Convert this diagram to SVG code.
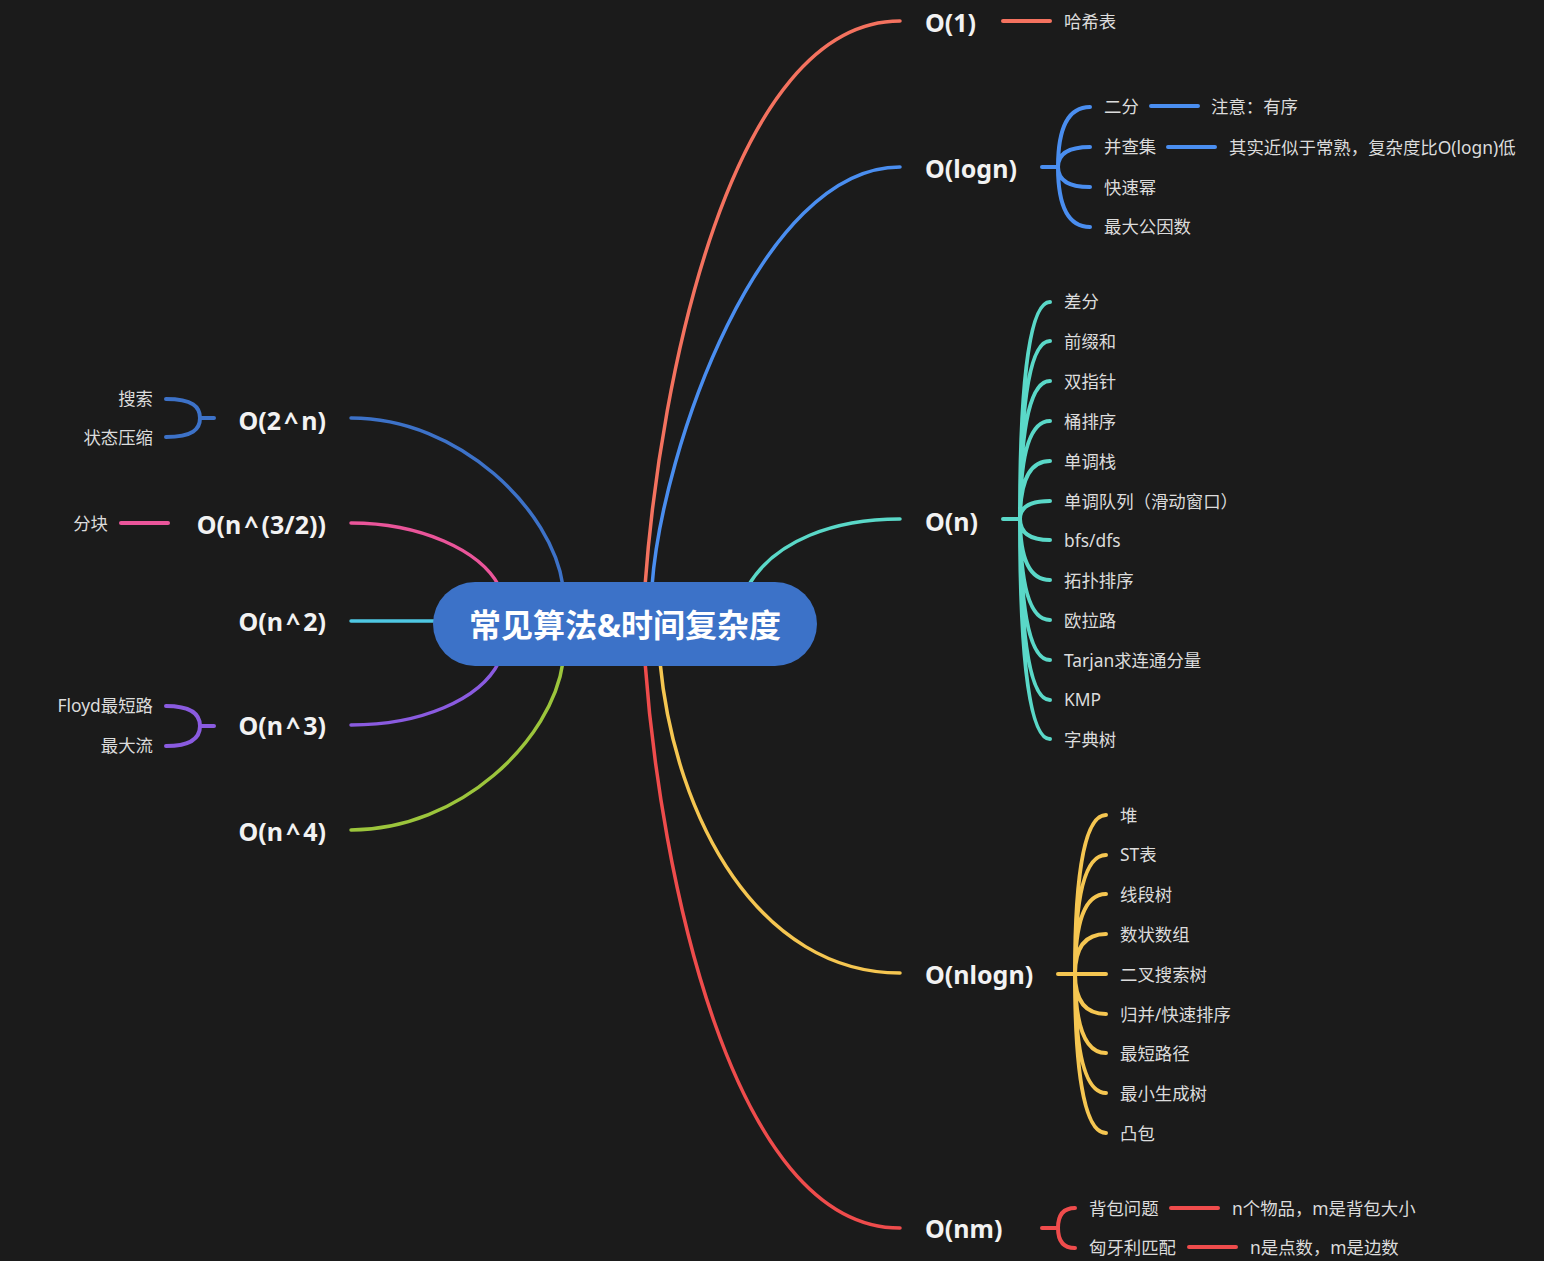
<svg xmlns="http://www.w3.org/2000/svg" width="1544" height="1261" viewBox="0 0 1544 1261">
<style>
.bg{fill:#1b1b1b}
.c{fill:none;stroke-linecap:round;stroke-width:3.5}
.s{fill:none;stroke-linecap:round;stroke-width:4}
.lbl{font-family:'Noto Sans','Open Sans','Noto Sans CJK SC',sans-serif;font-weight:700;font-size:25px;fill:#f2f2f2}
.t{font-family:'Noto Sans','Noto Sans CJK SC',sans-serif;font-size:17.4px;fill:#dcdcdc}
.end{text-anchor:end}
.r1{stroke:#f4725f}.bl{stroke:#4a8ef0}.tl{stroke:#5ad8c8}.yl{stroke:#f5c651}.rd{stroke:#ef4c4c}
.db{stroke:#3d72c8}.pk{stroke:#ea559a}.cy{stroke:#4fc8e3}.pu{stroke:#8a5be0}.gr{stroke:#9cc53c}
</style>
<rect class="bg" x="0" y="0" width="1544" height="1261"/>
<g id="connectors">
<path class="c r1" d="M645 586 C660 380 730 21 900 21"/>
<path class="c bl" d="M652 586 C662 450 760 167 900 167"/>
<path class="c tl" d="M748 586 C775 540 835 519 900 519"/>
<path class="c yl" d="M660 662 C675 820 760 973 900 973"/>
<path class="c rd" d="M645 662 C660 868 730 1228 900 1228"/>
<path class="c db" d="M563 586 C552 510 460 418 351 418"/>
<path class="c pk" d="M499 586 C480 550 420 523 351 523"/>
<path class="c cy" d="M351 621 L440 621"/>
<path class="c pu" d="M499 662 C480 700 420 725 351 725"/>
<path class="c gr" d="M563 662 C552 740 460 830 351 830"/>
<path class="s r1" d="M1003 21 H1050"/>
<path class="s bl" d="M1042 167 H1058 M1058 167 C1058 134 1065 107 1090 107 M1058 167 C1058 156 1065 147 1090 147 M1058 167 C1058 178 1065 187 1090 187 M1058 167 C1058 200 1065 227 1090 227"/>
<path class="s bl" d="M1151 106 H1198 M1168 147 H1215"/>
<path class="s tl" d="M1003 519 H1020 M1020 519 C1020 400 1027 302 1050 302 M1020 519 C1020 421 1027 341 1050 341 M1020 519 C1020 443 1027 381 1050 381 M1020 519 C1020 465 1027 421 1050 421 M1020 519 C1020 487 1027 461 1050 461 M1020 519 C1020 509 1027 501 1050 501 M1020 519 C1020 531 1027 540 1050 540 M1020 519 C1020 553 1027 580 1050 580 M1020 519 C1020 575 1027 620 1050 620 M1020 519 C1020 597 1027 660 1050 660 M1020 519 C1020 619 1027 700 1050 700 M1020 519 C1020 640 1027 739 1050 739"/>
<path class="s yl" d="M1058 974 H1106 M1075 974 C1075 887 1082 815 1106 815 M1075 974 C1075 909 1082 855 1106 855 M1075 974 C1075 930 1082 894 1106 894 M1075 974 C1075 952 1082 934 1106 934 M1075 974 C1075 996 1082 1014 1106 1014 M1075 974 C1075 1017 1082 1053 1106 1053 M1075 974 C1075 1039 1082 1093 1106 1093 M1075 974 C1075 1061 1082 1133 1106 1133"/>
<path class="s rd" d="M1042 1228 H1058 M1058 1228 C1058 1217 1062 1208 1075 1208 M1058 1228 C1058 1239 1062 1248 1075 1248"/>
<path class="s rd" d="M1171 1208 H1218 M1189 1247 H1236"/>
<path class="s db" d="M214 418 H200 M200 418 C200 407 193 399 166 399 M200 418 C200 429 193 437 166 437"/>
<path class="s pk" d="M121 523 H168"/>
<path class="s pu" d="M214 726 H200 M200 726 C200 715 193 706 166 706 M200 726 C200 737 193 746 166 746"/>
</g>
<g id="center">
<rect x="433" y="582" width="384" height="84" rx="42" fill="#3c72c8"/>
<text x="625" y="637" text-anchor="middle" style="font-family:'Noto Sans','Noto Sans CJK SC',sans-serif;font-weight:700;font-size:32px;fill:#ffffff">常见算法&amp;时间复杂度</text>
</g>
<g id="n-o1"><text class="lbl" x="925" y="32">O(1)</text></g>
<g id="n-hash"><text class="t" x="1064" y="28">哈希表</text></g>
<g id="n-ologn"><text class="lbl" x="925" y="178">O(logn)</text></g>
<g id="n-ologn-kids">
<text class="t" x="1104" y="113">二分</text>
<text class="t" x="1104" y="153">并查集</text>
<text class="t" x="1104" y="194">快速幂</text>
<text class="t" x="1104" y="233">最大公因数</text>
<text class="t" x="1211" y="113">注意：有序</text>
<text class="t" x="1229" y="154">其实近似于常熟，复杂度比O(logn)低</text>
</g>
<g id="n-on"><text class="lbl" x="925" y="531">O(n)</text></g>
<g id="n-on-kids">
<text class="t" x="1064" y="308">差分</text>
<text class="t" x="1064" y="348">前缀和</text>
<text class="t" x="1064" y="388">双指针</text>
<text class="t" x="1064" y="428">桶排序</text>
<text class="t" x="1064" y="468">单调栈</text>
<text class="t" x="1064" y="508">单调队列（滑动窗口）</text>
<text class="t" x="1064" y="547">bfs/dfs</text>
<text class="t" x="1064" y="587">拓扑排序</text>
<text class="t" x="1064" y="627">欧拉路</text>
<text class="t" x="1064" y="667">Tarjan求连通分量</text>
<text class="t" x="1064" y="706">KMP</text>
<text class="t" x="1064" y="746">字典树</text>
</g>
<g id="n-onlogn"><text class="lbl" x="925" y="984">O(nlogn)</text></g>
<g id="n-onlogn-kids">
<text class="t" x="1120" y="822">堆</text>
<text class="t" x="1120" y="861">ST表</text>
<text class="t" x="1120" y="901">线段树</text>
<text class="t" x="1120" y="941">数状数组</text>
<text class="t" x="1120" y="981">二叉搜索树</text>
<text class="t" x="1120" y="1021">归并/快速排序</text>
<text class="t" x="1120" y="1060">最短路径</text>
<text class="t" x="1120" y="1100">最小生成树</text>
<text class="t" x="1120" y="1140">凸包</text>
</g>
<g id="n-onm"><text class="lbl" x="925" y="1238">O(nm)</text></g>
<g id="n-onm-kids">
<text class="t" x="1089" y="1215">背包问题</text>
<text class="t" x="1089" y="1254">匈牙利匹配</text>
<text class="t" x="1232" y="1215">n个物品，m是背包大小</text>
<text class="t" x="1250" y="1254">n是点数，m是边数</text>
</g>
<g id="n-o2n"><text class="lbl end" x="326" y="430">O(2<tspan dx="3">^</tspan><tspan dx="3">n)</tspan></text></g>
<g id="n-o2n-kids">
<text class="t end" x="153" y="405">搜索</text>
<text class="t end" x="153" y="444">状态压缩</text>
</g>
<g id="n-on32"><text class="lbl end" x="326" y="534">O(n<tspan dx="3">^</tspan><tspan dx="3">(3/2))</tspan></text></g>
<g id="n-on32-kids"><text class="t end" x="108" y="530">分块</text></g>
<g id="n-on2"><text class="lbl end" x="326" y="631">O(n<tspan dx="3">^</tspan><tspan dx="3">2)</tspan></text></g>
<g id="n-on3"><text class="lbl end" x="326" y="735">O(n<tspan dx="3">^</tspan><tspan dx="3">3)</tspan></text></g>
<g id="n-on3-kids">
<text class="t end" x="153" y="712">Floyd最短路</text>
<text class="t end" x="153" y="752">最大流</text>
</g>
<g id="n-on4"><text class="lbl end" x="326" y="841">O(n<tspan dx="3">^</tspan><tspan dx="3">4)</tspan></text></g>
</svg>
